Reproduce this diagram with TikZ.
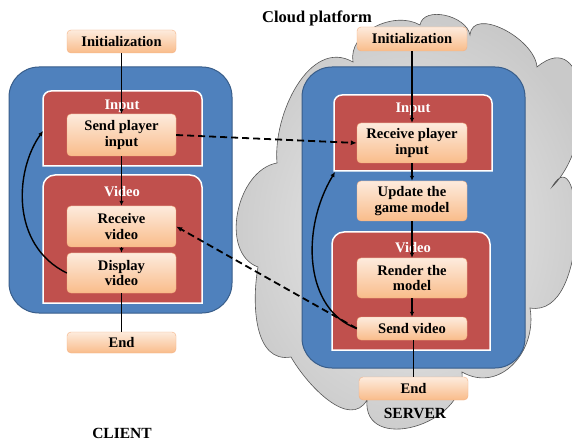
\documentclass[tikz,border=0pt]{standalone}
\usepackage{fontspec}
\setmainfont{Liberation Serif}
\usetikzlibrary{arrows.meta}
\definecolor{blueback}{HTML}{4F81BD}
\definecolor{blueline}{HTML}{385D8A}
\definecolor{redpanel}{HTML}{C0504D}
\definecolor{boxtop}{HTML}{FDEBDD}
\definecolor{boxbot}{HTML}{F9BC8A}
\definecolor{boxline}{HTML}{F5B183}
\definecolor{cloudin}{HTML}{EEEEEE}
\definecolor{cloudout}{HTML}{C9C9C9}
\definecolor{cloudline}{HTML}{555555}
\tikzset{
  stage/.style={draw=boxline, top color=boxtop, bottom color=boxbot, rounded corners=4,
    minimum width=109, align=center, inner sep=2,
    font=\bfseries\fontsize{14.6}{15.2}\selectfont},
  lbl/.style={text=white, font=\bfseries\fontsize{14.6}{15.2}\selectfont},
  title/.style={font=\bfseries\fontsize{15.5}{17}\selectfont},
  frame/.style={fill=blueback, draw=blueline, line width=1, rounded corners=30},
  panel/.style={fill=redpanel, draw=white, line width=1.5},
  cloudy/.style={inner color=cloudin, outer color=cloudout, draw=cloudline, line width=0.6},
  flow/.style={-{Latex[length=5pt,width=4.5pt]}, line width=1.4},
  link/.style={-{Latex[length=6pt,width=5pt]}, line width=1.8, dash pattern=on 7pt off 4pt}
}
\begin{document}
\begin{tikzpicture}[x=1pt,y=1pt]
 \clip (0,0) rectangle (572,-443);
 \useasboundingbox (0,0) rectangle (572,-443);
 \fill[white] (0,0) rectangle (572,-443);
 \draw[cloudy] (277,-163) to[out=95,in=150] (353,-62) to[out=100,in=150] (420,-25)
   to[out=80,in=100] (470,-35) to[out=85,in=95] (537,-67)
   to[out=40,in=45,looseness=1.4] (552,-187) to[out=60,in=-10,looseness=1.3] (530,-308)
   to[out=-80,in=-30,looseness=1.2] (462,-372) to[out=-85,in=-95,looseness=1.4] (367,-400)
   to[out=-120,in=-60] (291,-357) to[out=190,in=-100] (258,-267)
   to[out=160,in=190] (277,-163) -- cycle;
 \draw[frame] (9,-67) rectangle (232,-313);
 \draw[frame] (302,-67) rectangle (525,-368);
 \draw[panel] (43,-166) -- (43,-99) arc[start angle=180,end angle=90,radius=8] -- (194,-91) arc[start angle=90,end angle=0,radius=8] -- (202,-166) -- cycle;
 \draw[panel] (43,-303) -- (43,-187) arc[start angle=180,end angle=90,radius=12] -- (190,-175) arc[start angle=90,end angle=0,radius=12] -- (202,-303) -- cycle;
 \draw[panel] (334,-171) -- (334,-103) arc[start angle=180,end angle=90,radius=8] -- (484,-95) arc[start angle=90,end angle=0,radius=8] -- (492,-171) -- cycle;
 \draw[panel] (332,-350) -- (332,-244) arc[start angle=180,end angle=90,radius=12] -- (478,-232) arc[start angle=90,end angle=0,radius=12] -- (490,-350) -- cycle;
 \coordinate (cback) at (43,-131);
 \coordinate (sback) at (335,-172);

 \node[lbl] (cinput) at (122,-106) {Input};
 \node[lbl] (cvideo) at (122,-192) {Video};
 \node[lbl] (sinput) at (413,-109) {Input};
 \node[lbl] (svideo) at (413,-248) {Video};

 \node[stage, minimum height=23] (cinit) at (121.5,-41.5) {Initialization};
 \node[stage, minimum height=42] (csend) at (121.5,-135) {Send player\\input};
 \node[stage, minimum height=41] (crecv) at (121.5,-226.5) {Receive\\video};
 \node[stage, minimum height=40] (cdisp) at (121.5,-273) {Display\\video};
 \node[stage, minimum height=21] (cend) at (121.5,-342.5) {End};

 \node[stage, minimum width=110, minimum height=24] (sinit) at (412,-39) {Initialization};
 \node[stage, minimum width=110, minimum height=40] (srecv) at (412,-143) {Receive player\\input};
 \node[stage, minimum width=110, minimum height=40] (supd) at (412,-201) {Update the\\game model};
 \node[stage, minimum width=110, minimum height=40] (srend) at (412,-278) {Render the\\model};
 \node[stage, minimum width=110, minimum height=23] (ssend) at (412,-328.5) {Send video};
 \node[stage, minimum height=23] (send) at (413.5,-388.5) {End};

 \node[title, font=\bfseries\fontsize{16.5}{18}\selectfont] (cloud) at (317,-18) {Cloud platform};
 \node[title] (client) at (122,-433) {CLIENT};
 \node[title] (server) at (415,-413) {SERVER};

 \draw[flow] (cinit) -- (csend);
 \draw[flow] (csend) -- (crecv);
 \draw[flow] (crecv) -- (cdisp);
 \draw[line width=1.4] (cdisp) -- (cend);
 \draw[flow] (cdisp.west) .. controls (10,-245) and (15,-170) .. (cback);

 \draw[flow] (sinit) -- (srecv);
 \draw[flow] (srecv) -- (supd);
 \draw[flow] (supd) -- (srend);
 \draw[flow] (srend) -- (ssend);
 \draw[line width=1.4] (ssend.south -| send) -- (send);
 \draw[flow] (ssend.west) .. controls (305,-310) and (300,-230) .. (sback);

 \draw[link] (csend.east) -- (srecv.west);
 \draw[link] (ssend.west) -- (crecv.east);
\end{tikzpicture}
\end{document}
